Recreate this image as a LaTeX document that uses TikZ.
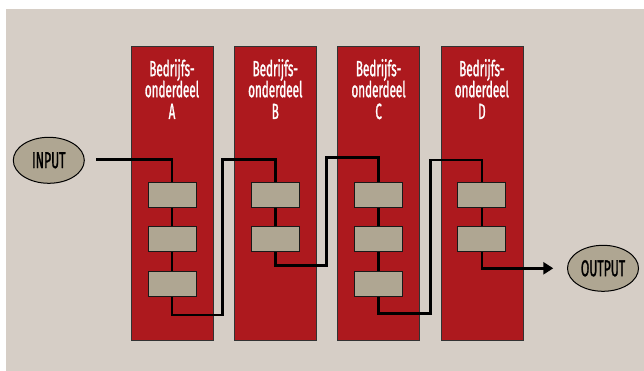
\documentclass[tikz,border=0pt]{standalone}
\usepackage{fontspec}
\newfontfamily\cond[FakeStretch=0.53,FakeBold=1.2]{Fira Sans}
\usetikzlibrary{arrows.meta,shapes.geometric}
\definecolor{bgbeige}{HTML}{D6CEC6}
\definecolor{colred}{HTML}{AD191E}
\definecolor{boxgray}{HTML}{AFA692}
\tikzset{
  x=1pt,y=-1pt,
  column/.style={draw=black!80,line width=0.8pt,fill=colred,minimum width=82pt,minimum height=294pt,inner sep=0pt},
  stage/.style={draw=black!90,line width=0.9pt,fill=boxgray,minimum width=48pt,minimum height=25pt,inner sep=0pt},
  coltext/.style={text=white,font=\cond\fontsize{22}{22}\selectfont,anchor=base,inner sep=0pt,text height=14pt,text depth=2.5pt},
  term/.style={ellipse,draw=black,line width=1pt,fill=boxgray,minimum width=71pt,minimum height=46pt,inner sep=0pt,font=\cond\fontsize{23}{23}\selectfont},
  flow/.style={line width=2.8pt,black},
}
\begin{document}
\begin{tikzpicture}
\useasboundingbox (0,0) rectangle (644,371);
\fill[white] (0,0) rectangle (644,371);
\fill[bgbeige] (6,9) rectangle (644,371);
% columns
\foreach \n/\cx/\l in {A/172/A,B/275.3/B,C/378.6/C,D/481.9/D}{
  \node[column] (col\n) at (\cx,193.7) {};
  \node[coltext] (t\n1) at (\cx,76.2) {Bedrijfs-};
  \node[coltext] (t\n2) at (\cx,97.2) {onderdeel};
  \node[coltext] (t\n3) at (\cx,119) {\l};
}
% stages
\node[stage] (A1) at (172,194.7) {};
\node[stage] (A2) at (172,239.3) {};
\node[stage] (A3) at (172,284) {};
\node[stage] (B1) at (275.3,194.7) {};
\node[stage] (B2) at (275.3,239.3) {};
\node[stage] (C1) at (378.6,194.7) {};
\node[stage] (C2) at (378.6,239.3) {};
\node[stage] (C3) at (378.6,284) {};
\node[stage] (D1) at (481.9,194.7) {};
\node[stage] (D2) at (481.9,239.3) {};
% terminals
\node[term] (in) at (48.8,160.3) {INPUT};
\node[term] (out) at (603,268.3) {OUTPUT};
% junction points
\coordinate (s) at (96,159.3);
\coordinate (j1) at (222.7,315);
\coordinate (j2) at (222.7,159.3);
\coordinate (j3) at (326.7,265.3);
\coordinate (j4) at (326.7,157.7);
\coordinate (j5) at (430.3,313.3);
\coordinate (j6) at (430.3,160);
\coordinate (e) at (553.3,268.3);
% flow
\draw[flow] (s) -| (A1.north);
\draw[flow] (A1.south) -- (A2.north);
\draw[flow] (A2.south) -- (A3.north);
\draw[flow] (A3.south) |- (j1) -- (j2) -| (B1.north);
\draw[flow] (B1.south) -- (B2.north);
\draw[flow] (B2.south) |- (j3) -- (j4) -| (C1.north);
\draw[flow] (C1.south) -- (C2.north);
\draw[flow] (C2.south) -- (C3.north);
\draw[flow] (C3.south) |- (j5) -- (j6) -| (D1.north);
\draw[flow] (D1.south) -- (D2.north);
\draw[flow,-{Triangle[length=10pt,width=12pt]}] (D2.south) |- (e);
\end{tikzpicture}
\end{document}
